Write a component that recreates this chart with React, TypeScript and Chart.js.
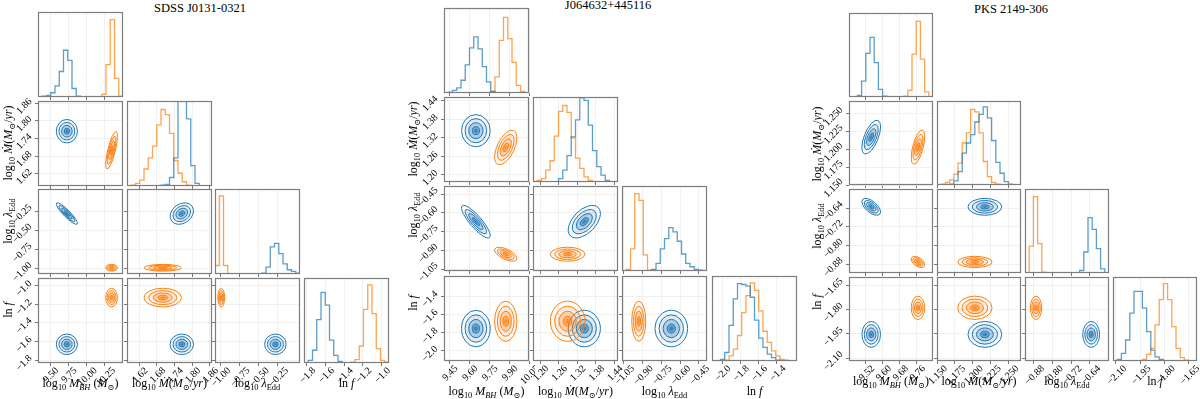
import React, { useEffect, useRef } from 'react';
import { Chart, registerables } from 'chart.js';
Chart.register(...registerables);

const FONT = '"Liberation Serif", "DejaVu Serif", serif';
const BLUE = [31, 119, 180];
const ORANGE = [255, 127, 14];

// ---------- Corner 1: SDSS J0131-0321 ----------
const P1_TITLE = 'SDSS J0131-0321';
const P1_RANGES = [[9.336, 10.496], [1.578, 1.868], [-1.066, 0.04], [-1.83, -0.92]];
const P1_TICKS = [[9.5, 9.75, 10.0, 10.25], [1.62, 1.68, 1.74, 1.8, 1.86], [-1.0, -0.75, -0.5, -0.25], [-1.8, -1.6, -1.4, -1.2, -1.0]];
const P1_DEC = [2, 2, 2, 1];
const P1_BLUE_MEAN = [9.73, 1.765, -0.28, -1.63];
const P1_BLUE_STD = [0.072, 0.02, 0.07, 0.055];
const P1_BLUE_CORR = [0, -0.9, 0.25, 0, 0, 0];
const P1_ORANGE_MEAN = [10.34, 1.7, -0.985, -1.13];
const P1_ORANGE_STD = [0.04, 0.032, 0.022, 0.05];
const P1_ORANGE_CORR = [0.75, 0, 0, 0, 0, 0];
const P1_HB_M = [0.005, 0.01, 0.02, 0.05, 0.13, 0.3, 0.55, 0.43, 0.1, 0.01, 0, 0, 0, 0, 0, 0, 0, 0, 0, 0];
const P1_HO_M = [0, 0, 0, 0, 0, 0, 0, 0, 0, 0, 0, 0, 0, 0, 0.005, 0.03, 0.38, 0.91, 0.22, 0.01];
const P1_HB_MDOT = [0, 0, 0, 0, 0, 0, 0, 0.003, 0.01, 0.02, 0.1, 0.33, 1.3, 1.3, 0.79, 0.24, 0.03, 0.005, 0, 0];
const P1_HO_MDOT = [0.003, 0.01, 0.03, 0.07, 0.2, 0.33, 0.47, 0.72, 0.9, 0.84, 0.62, 0.3, 0.15, 0.05, 0.01, 0.003, 0, 0, 0, 0];
const P1_HB_LAM = [0, 0, 0, 0, 0, 0, 0, 0, 0, 0, 0.003, 0.01, 0.08, 0.32, 0.36, 0.24, 0.12, 0.05, 0.03, 0.01];
const P1_HO_LAM = [0.1, 0.92, 0.1, 0, 0, 0, 0, 0, 0, 0, 0, 0, 0, 0, 0, 0, 0, 0, 0, 0];
const P1_HB_LNF = [0.005, 0.03, 0.15, 0.51, 0.83, 0.68, 0.27, 0.09, 0.02, 0.005, 0, 0, 0, 0, 0, 0, 0, 0, 0, 0];
const P1_HO_LNF = [0, 0, 0, 0, 0, 0, 0, 0, 0, 0, 0, 0.01, 0.04, 0.2, 0.63, 0.92, 0.58, 0.17, 0.03, 0.01];

// ---------- Corner 2: J064632+445116 ----------
const P2_TITLE = 'J064632+445116';
const P2_RANGES = [[9.41, 10.05], [1.177, 1.452], [-1.064, -0.385], [-2.11, -1.18]];
const P2_TICKS = [[9.45, 9.6, 9.75, 9.9, 10.05], [1.2, 1.26, 1.32, 1.38, 1.44], [-1.05, -0.9, -0.75, -0.6, -0.45], [-2.0, -1.8, -1.6, -1.4]];
const P2_DEC = [2, 2, 2, 1];
const P2_BLUE_MEAN = [9.65, 1.343, -0.67, -1.755];
const P2_BLUE_STD = [0.054, 0.026, 0.065, 0.1];
const P2_BLUE_CORR = [0, -0.85, 0.5, 0, 0, 0];
const P2_ORANGE_MEAN = [9.875, 1.289, -0.93, -1.675];
const P2_ORANGE_STD = [0.042, 0.028, 0.028, 0.11];
const P2_ORANGE_CORR = [0.55, -0.6, 0, 0, 0, 0];
const P2_HB_M = [0.003, 0.01, 0.03, 0.06, 0.15, 0.33, 0.53, 0.66, 0.52, 0.31, 0.13, 0.02, 0.005, 0, 0, 0, 0, 0, 0, 0];
const P2_HO_M = [0, 0, 0, 0, 0, 0, 0, 0, 0, 0, 0.005, 0.02, 0.19, 0.62, 0.89, 0.64, 0.36, 0.09, 0.02, 0.003];
const P2_HB_MDOT = [0, 0, 0, 0, 0, 0.005, 0.04, 0.14, 0.31, 0.53, 0.73, 0.99, 0.96, 0.67, 0.37, 0.18, 0.08, 0.02, 0.005, 0];
const P2_HO_MDOT = [0.005, 0.02, 0.04, 0.14, 0.25, 0.54, 0.83, 0.9, 0.82, 0.52, 0.28, 0.16, 0.06, 0.02, 0.005, 0, 0, 0, 0, 0];
const P2_HB_LAM = [0, 0, 0, 0, 0, 0, 0.005, 0.02, 0.09, 0.26, 0.38, 0.51, 0.46, 0.35, 0.2, 0.09, 0.05, 0.02, 0.01, 0];
const P2_HO_LAM = [0, 0.02, 0.26, 0.91, 0.83, 0.19, 0.01, 0, 0, 0, 0, 0, 0, 0, 0, 0, 0, 0, 0, 0];
const P2_HB_LNF = [0, 0.005, 0.02, 0.1, 0.42, 0.73, 0.91, 0.9, 0.88, 0.75, 0.48, 0.27, 0.16, 0.08, 0.04, 0.01, 0, 0, 0, 0];
const P2_HO_LNF = [0, 0, 0, 0.01, 0.06, 0.14, 0.3, 0.57, 0.77, 0.92, 0.83, 0.59, 0.35, 0.22, 0.12, 0.06, 0.02, 0.01, 0, 0];

// ---------- Corner 3: PKS 2149-306 ----------
const P3_TITLE = 'PKS 2149-306';
const P3_RANGES = [[9.44, 9.837], [1.15, 1.2675], [-0.917, -0.559], [-2.118, -1.6]];
const P3_TICKS = [[9.52, 9.6, 9.68, 9.76], [1.15, 1.175, 1.2, 1.225, 1.25], [-0.88, -0.8, -0.72, -0.64], [-2.1, -1.95, -1.8, -1.65]];
const P3_DEC = [2, 3, 2, 2];
const P3_BLUE_MEAN = [9.545, 1.217, -0.635, -1.954];
const P3_BLUE_STD = [0.022, 0.0118, 0.018, 0.04];
const P3_BLUE_CORR = [0.6, -0.6, 0, 0, 0, 0];
const P3_ORANGE_MEAN = [9.766, 1.203, -0.87, -1.79];
const P3_ORANGE_STD = [0.016, 0.012, 0.012, 0.036];
const P3_ORANGE_CORR = [0.6, -0.5, 0, 0, 0, 0];
const P3_HB_M = [0, 0, 0.02, 0.19, 0.52, 0.71, 0.41, 0.09, 0.01, 0.003, 0, 0, 0, 0, 0, 0, 0, 0, 0, 0];
const P3_HO_M = [0, 0, 0, 0, 0, 0, 0, 0, 0, 0, 0, 0, 0, 0.01, 0.08, 0.51, 0.9, 0.45, 0.06, 0.003];
const P3_HB_MDOT = [0, 0, 0.005, 0.01, 0.05, 0.16, 0.38, 0.5, 0.6, 0.75, 0.84, 0.93, 0.8, 0.53, 0.27, 0.14, 0.04, 0.01, 0, 0];
const P3_HO_MDOT = [0, 0.01, 0.03, 0.06, 0.13, 0.26, 0.5, 0.62, 0.9, 0.87, 0.62, 0.28, 0.1, 0.03, 0.01, 0, 0, 0, 0, 0];
const P3_HB_LAM = [0, 0, 0, 0, 0, 0, 0, 0, 0, 0, 0, 0, 0, 0.03, 0.25, 0.66, 0.52, 0.29, 0.05, 0.005];
const P3_HO_LAM = [0.005, 0.32, 0.91, 0.35, 0.01, 0, 0, 0, 0, 0, 0, 0, 0, 0, 0, 0, 0, 0, 0, 0];
const P3_HB_LNF = [0, 0.02, 0.09, 0.25, 0.57, 0.83, 0.83, 0.63, 0.35, 0.13, 0.05, 0.02, 0.005, 0, 0, 0, 0, 0, 0, 0];
const P3_HO_LNF = [0, 0, 0, 0, 0, 0, 0, 0.02, 0.08, 0.15, 0.43, 0.73, 0.92, 0.73, 0.41, 0.15, 0.04, 0.01, 0, 0];

// pair order for correlation arrays
const PAIRS = [[0, 1], [0, 2], [1, 2], [0, 3], [1, 3], [2, 3]];

type Series = { mean: number[]; std: number[]; corr: number[] };
type CornerData = {
  title: string; ranges: number[][]; ticks: number[][]; dec: number[];
  blue: Series; orange: Series; histBlue: number[][]; histOrange: number[][];
};

const CORNERS: CornerData[] = [
  { title: P1_TITLE, ranges: P1_RANGES, ticks: P1_TICKS, dec: P1_DEC,
    blue: { mean: P1_BLUE_MEAN, std: P1_BLUE_STD, corr: P1_BLUE_CORR },
    orange: { mean: P1_ORANGE_MEAN, std: P1_ORANGE_STD, corr: P1_ORANGE_CORR },
    histBlue: [P1_HB_M, P1_HB_MDOT, P1_HB_LAM, P1_HB_LNF], histOrange: [P1_HO_M, P1_HO_MDOT, P1_HO_LAM, P1_HO_LNF] },
  { title: P2_TITLE, ranges: P2_RANGES, ticks: P2_TICKS, dec: P2_DEC,
    blue: { mean: P2_BLUE_MEAN, std: P2_BLUE_STD, corr: P2_BLUE_CORR },
    orange: { mean: P2_ORANGE_MEAN, std: P2_ORANGE_STD, corr: P2_ORANGE_CORR },
    histBlue: [P2_HB_M, P2_HB_MDOT, P2_HB_LAM, P2_HB_LNF], histOrange: [P2_HO_M, P2_HO_MDOT, P2_HO_LAM, P2_HO_LNF] },
  { title: P3_TITLE, ranges: P3_RANGES, ticks: P3_TICKS, dec: P3_DEC,
    blue: { mean: P3_BLUE_MEAN, std: P3_BLUE_STD, corr: P3_BLUE_CORR },
    orange: { mean: P3_ORANGE_MEAN, std: P3_ORANGE_STD, corr: P3_ORANGE_CORR },
    histBlue: [P3_HB_M, P3_HB_MDOT, P3_HB_LAM, P3_HB_LNF], histOrange: [P3_HO_M, P3_HO_MDOT, P3_HO_LAM, P3_HO_LNF] },
];

// ---------- layout (positions only) ----------
type Layout = { x0: number; y0: number; step: number; size: number; titleX: number; titleY: number; xlabY: number; ylabX: number; ylabY: number[] };
const LAYOUTS: Layout[] = [
  { x0: 38, y0: 12, step: 88.5, size: 85, titleX: 200, titleY: 8, xlabY: 383, ylabX: 8, ylabY: [143, 221, 310] },
  { x0: 444, y0: 8, step: 89.2, size: 85, titleX: 608, titleY: 5, xlabY: 391, ylabX: 413, ylabY: [139, 215, 303] },
  { x0: 849, y0: 13, step: 88, size: 84, titleX: 1011, titleY: 9, xlabY: 381, ylabX: 817, ylabY: [144, 226, 302] },
];

type Seg = { t: string; sub?: boolean; it?: boolean };
const LABELS: Seg[][] = [
  [{ t: 'log' }, { t: '10', sub: true }, { t: ' ' }, { t: 'M', it: true }, { t: 'BH', sub: true, it: true }, { t: ' (' }, { t: 'M', it: true }, { t: '⊙', sub: true }, { t: ')' }],
  [{ t: 'log' }, { t: '10', sub: true }, { t: ' ' }, { t: 'Ṁ', it: true }, { t: '(' }, { t: 'M', it: true }, { t: '⊙', sub: true }, { t: '/' }, { t: 'yr', it: true }, { t: ')' }],
  [{ t: 'log' }, { t: '10', sub: true }, { t: ' ' }, { t: 'λ', it: true }, { t: 'Edd', sub: true }],
  [{ t: 'ln ' }, { t: 'f', it: true }],
];

const ML = 46, MR = 6, MT = 6, MB = 46;
const TICK_FONT_SIZE = 10;

const rgba = (c: number[], a: number) => `rgba(${c[0]},${c[1]},${c[2]},${a})`;
const fmt = (v: number, d: number) => v.toFixed(d).replace('-', '\u2212');
const corrOf = (c: number[], i: number, j: number) => c[PAIRS.findIndex(p => p[0] === i && p[1] === j)];

function drawContours(chart: any, items: any[]) {
  const { ctx, chartArea: a, scales } = chart;
  const xs = scales.x, ys = scales.y;
  ctx.save();
  ctx.beginPath();
  ctx.rect(a.left, a.top, a.right - a.left, a.bottom - a.top);
  ctx.clip();
  for (const it of items) {
    const cx = xs.getPixelForValue(it.mx), cy = ys.getPixelForValue(it.my);
    const kx = xs.getPixelForValue(it.mx + it.sx) - cx;
    const ky = ys.getPixelForValue(it.my + it.sy) - cy;
    const a11 = kx * kx, a22 = ky * ky, a12 = it.r * kx * ky;
    const tr = a11 + a22, det = a11 * a22 - a12 * a12;
    const d = Math.sqrt(Math.max(tr * tr / 4 - det, 0));
    const r1 = Math.sqrt(tr / 2 + d), r2 = Math.sqrt(Math.max(tr / 2 - d, 0.01));
    const ang = 0.5 * Math.atan2(2 * a12, a11 - a22);
    const fills: number[][] = [[2, 0.03], [1.5, 0.12], [1, 0.25], [0.5, 0.45], [0.25, 0.7]];
    for (const [s, al] of fills) {
      ctx.beginPath();
      ctx.ellipse(cx, cy, s * r1, s * r2, ang, 0, Math.PI * 2);
      ctx.fillStyle = rgba(it.rgb, al);
      ctx.fill();
    }
    ctx.strokeStyle = rgba(it.rgb, 1);
    ctx.lineWidth = 1;
    for (const s of [0.5, 1, 1.5, 2]) {
      ctx.beginPath();
      ctx.ellipse(cx, cy, s * r1, s * r2, ang, 0, Math.PI * 2);
      ctx.stroke();
    }
  }
  ctx.restore();
}

// rotated (45 deg) tick label, positioned by the centre of its bounding box
function drawRotLabel(ctx: CanvasRenderingContext2D, text: string, cx: number, cy: number) {
  ctx.save();
  ctx.translate(cx, cy);
  ctx.rotate(-Math.PI / 4);
  ctx.fillText(text, 0, 0);
  ctx.restore();
}

function Panel({ corner, layout, row, col }: { corner: CornerData; layout: Layout; row: number; col: number }) {
  const ref = useRef<HTMLCanvasElement>(null);
  const size = layout.size;
  const left = Math.round(layout.x0 + col * layout.step);
  const top = Math.round(layout.y0 + row * layout.step);
  const W = size + ML + MR, H = size + MT + MB;

  useEffect(() => {
    const cv = ref.current;
    if (!cv) return;
    const diag = row === col;
    const xr = corner.ranges[col];
    const yr = diag ? [0, 1] : corner.ranges[row];
    const datasets: any[] = [];
    if (diag) {
      const pairs: [number[], number[]][] = [[corner.histBlue[col], BLUE], [corner.histOrange[col], ORANGE]];
      for (const [h, rgb] of pairs) {
        const n = h.length;
        const w = (xr[1] - xr[0]) / n;
        const pts: { x: number; y: number }[] = [{ x: xr[0], y: 0 }];
        h.forEach((v, i) => pts.push({ x: xr[0] + i * w, y: v }));
        pts.push({ x: xr[1], y: h[n - 1] });
        pts.push({ x: xr[1], y: 0 });
        datasets.push({ data: pts, borderColor: rgba(rgb, 0.72), borderWidth: 1.3, pointRadius: 0, stepped: 'before', fill: false, tension: 0 });
      }
    }
    const contours = diag ? [] : [
      { s: corner.blue, rgb: BLUE }, { s: corner.orange, rgb: ORANGE },
    ].map(({ s, rgb }) => ({ mx: s.mean[col], my: s.mean[row], sx: s.std[col], sy: s.std[row], r: corrOf(s.corr, col, row), rgb }));

    const gridOpts = { color: '#ededed', lineWidth: 0.8, drawTicks: true, tickLength: 3, tickColor: '#777', tickWidth: 1 };
    const chart = new Chart(cv, {
      type: 'line',
      data: { datasets },
      options: {
        animation: false,
        responsive: false,
        events: [],
        layout: { padding: { top: MT, right: MR, left: 0, bottom: 0 } },
        plugins: { legend: { display: false }, tooltip: { enabled: false } },
        scales: {
          x: {
            type: 'linear', min: xr[0], max: xr[1], bounds: 'data', position: 'bottom',
            afterBuildTicks: (ax: any) => { ax.ticks = corner.ticks[col].map(v => ({ value: v })); },
            afterFit: (ax: any) => { ax.height = MB; ax.paddingLeft = 0; ax.paddingRight = 0; ax.paddingTop = 0; ax.paddingBottom = 0; },
            grid: gridOpts,
            border: { display: false },
            ticks: { display: false },
          },
          y: {
            type: 'linear', min: yr[0], max: yr[1], bounds: 'data', position: 'left',
            afterBuildTicks: (ax: any) => { if (!diag) ax.ticks = corner.ticks[row].map(v => ({ value: v })); },
            afterFit: (ax: any) => { ax.width = ML; ax.paddingLeft = 0; ax.paddingRight = 0; ax.paddingTop = 0; ax.paddingBottom = 0; },
            grid: diag ? { display: false } : gridOpts,
            border: { display: false },
            ticks: { display: false },
          },
        },
      } as any,
      plugins: [{
        id: 'deco',
        beforeDatasetsDraw(ch: any) { if (contours.length) drawContours(ch, contours); },
        afterDatasetsDraw(ch: any) {
          const { ctx, chartArea: a, scales } = ch;
          ctx.save();
          ctx.strokeStyle = '#7d7d7d';
          ctx.lineWidth = 1.2;
          ctx.strokeRect(a.left + 0.5, a.top + 0.5, a.right - a.left - 1, a.bottom - a.top - 1);
          ctx.font = `${TICK_FONT_SIZE}px ${FONT}`;
          ctx.fillStyle = '#000';
          ctx.textAlign = 'center';
          ctx.textBaseline = 'middle';
          const th = TICK_FONT_SIZE * 0.72;
          if (row === 3) {
            for (const v of corner.ticks[col]) {
              const t = fmt(v, corner.dec[col]);
              const half = (ctx.measureText(t).width + th) * 0.3536;
              drawRotLabel(ctx, t, scales.x.getPixelForValue(v) + 1, a.bottom + 3.5 + half);
            }
          }
          if (col === 0 && !diag) {
            for (const v of corner.ticks[row]) {
              const t = fmt(v, corner.dec[row]);
              const half = (ctx.measureText(t).width + th) * 0.3536;
              drawRotLabel(ctx, t, a.left - 5 - half, scales.y.getPixelForValue(v) + 3);
            }
          }
          ctx.restore();
        },
      }],
    });
    return () => chart.destroy();
  }, []);

  return <canvas ref={ref} width={W} height={H} style={{ position: 'absolute', left: left - ML, top: top - MT, width: W, height: H }} />;
}

function Rich({ segs }: { segs: Seg[] }) {
  return (
    <>
      {segs.map((s, i) => {
        const inner = s.it ? <i>{s.t}</i> : s.t;
        return s.sub
          ? <span key={i} style={{ fontSize: '70%', position: 'relative', top: '0.35em' }}>{inner}</span>
          : <span key={i}>{inner}</span>;
      })}
    </>
  );
}

function CornerPlot({ corner, layout }: { corner: CornerData; layout: Layout }) {
  const panels: JSX.Element[] = [];
  for (let r = 0; r < 4; r++) for (let c = 0; c <= r; c++) panels.push(<Panel key={`${r}-${c}`} corner={corner} layout={layout} row={r} col={c} />);
  const labStyle: React.CSSProperties = { position: 'absolute', fontFamily: FONT, fontSize: 12, whiteSpace: 'pre', lineHeight: 1, color: '#000' };
  return (
    <>
      {panels}
      <div style={{ position: 'absolute', left: layout.titleX, top: layout.titleY, transform: 'translate(-50%,-50%)', fontFamily: FONT, fontSize: 12.5, whiteSpace: 'nowrap', lineHeight: 1 }}>{corner.title}</div>
      {[0, 1, 2, 3].map(c => (
        <div key={'x' + c} style={{ ...labStyle, left: Math.round(layout.x0 + c * layout.step) + layout.size / 2, top: layout.xlabY, transform: 'translate(-50%,-50%)' }}>
          <Rich segs={LABELS[c]} />
        </div>
      ))}
      {[1, 2, 3].map(r => (
        <div key={'y' + r} style={{ ...labStyle, left: layout.ylabX, top: layout.ylabY[r - 1], transform: 'translate(-50%,-50%) rotate(-90deg)' }}>
          <Rich segs={LABELS[r]} />
        </div>
      ))}
    </>
  );
}

export default function App() {
  return (
    <div style={{ position: 'fixed', left: 0, top: 0, width: 1200, height: 399, background: '#fff', overflow: 'hidden' }}>
      {CORNERS.map((c, i) => <CornerPlot key={i} corner={c} layout={LAYOUTS[i]} />)}
    </div>
  );
}
